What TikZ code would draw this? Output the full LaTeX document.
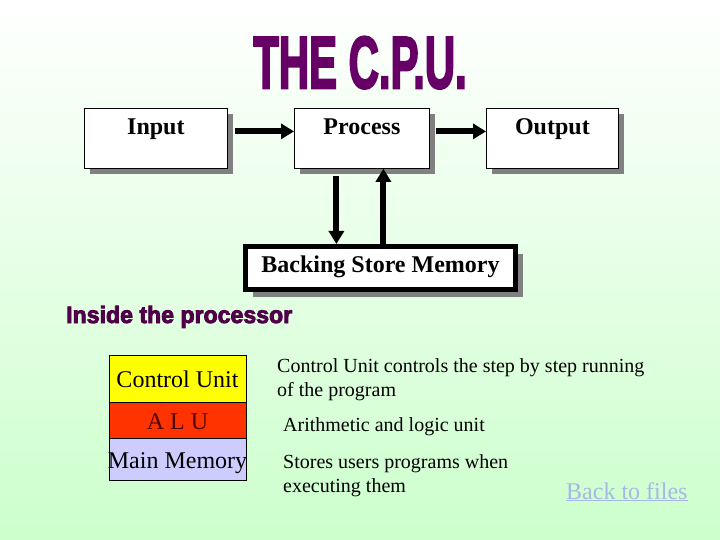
\documentclass[tikz,border=0pt]{standalone}
\usepackage{fontspec}
\setmainfont{Liberation Serif}
\newfontfamily\heavyfont[UprightFont=* Bold, FakeBold=3.5]{Liberation Sans}
\usetikzlibrary{arrows.meta,shadows}
\definecolor{bggreen}{RGB}{204,255,204}
\definecolor{titlepurple}{RGB}{102,0,102}
\definecolor{insidepurple}{RGB}{80,0,72}
\definecolor{shadowgray}{RGB}{128,128,128}
\definecolor{cuyellow}{RGB}{255,255,0}
\definecolor{alured}{RGB}{255,51,0}
\definecolor{memlav}{RGB}{204,204,255}
\definecolor{linkblue}{RGB}{168,184,230}
\definecolor{aludark}{RGB}{80,0,0}
\begin{document}
\begin{tikzpicture}[x=1pt,y=-1pt,
  flowbox/.style={draw=black, line width=0.8pt, fill=white, inner sep=0pt,
    font=\bfseries\fontsize{24}{28}\selectfont, text height=26pt, text depth=34pt,
    anchor=north west,
    drop shadow={shadow xshift=6pt, shadow yshift=-6pt, fill=shadowgray, opacity=1}},
  arr/.style={line width=6pt, -{Triangle[length=13pt,width=15pt]}},
  stackbox/.style={draw=black, line width=0.6pt, inner sep=0pt, minimum width=137pt,
    anchor=north west, font=\fontsize{24}{28}\selectfont},
  desc/.style={anchor=base west, inner sep=0pt, align=left,
    font=\fontsize{20}{24}\selectfont}]
\useasboundingbox (0,0) rectangle (720,540);
\shade[top color=white, bottom color=bggreen] (0,0) rectangle (720,540);

% title
\node[anchor=base, inner sep=0pt, text=titlepurple] (title) at (360,88)
  {\heavyfont\fontsize{73.5}{80}\selectfont\scalebox{0.57}[1]{THE C.P.U.}};

% flow boxes
\node[flowbox, minimum width=143pt] (input) at (84,108) {Input};
\node[flowbox, minimum width=135pt] (process) at (294,108) {Process};
\node[flowbox, minimum width=132pt] (output) at (486,108) {Output};
\node[draw=black, line width=5pt, fill=white, inner sep=0pt, anchor=north west,
  minimum width=270pt, text height=25.5pt, text depth=17.5pt,
  font=\bfseries\fontsize{24}{28}\selectfont,
  drop shadow={shadow xshift=7pt, shadow yshift=-7pt, fill=shadowgray, opacity=1}]
  (backing) at (243,244) {Backing Store Memory};

% connectors
\draw[arr] ([xshift=7pt,yshift=7pt]input.east) -- ([yshift=7pt]process.west);
\draw[arr] ([xshift=6pt,yshift=7pt]process.east) -- ([yshift=7pt]output.west);
\path ([xshift=-25.5pt,yshift=-7pt]process.south) coordinate (downtop);
\path ([xshift=21.5pt]process.south) coordinate (uptop);
\draw[arr] (downtop) -- (downtop |- backing.north);
\draw[arr] (uptop |- backing.north) -- (uptop);

% inside the processor
\node[anchor=base west, inner sep=0pt, text=insidepurple] (inside) at (66,323)
  {\heavyfont\fontsize{23.7}{28}\selectfont\scalebox{0.975}[1]{Inside the processor}};

\node[stackbox, fill=cuyellow, text height=32pt, text depth=15pt] (cu) at (108.7,355) {Control Unit};
\node[stackbox, fill=alured, text height=27pt, text depth=9pt, text=aludark] (alu) at (108.7,402) {A L U};
\node[stackbox, fill=memlav, text height=30pt, text depth=12pt] (mem) at (108.7,438) {\makebox[137pt]{Main Memory}};

% base anchor of a two-line node is the last line's baseline
\node[desc] (cudesc) at (277,396) {Control Unit controls the step by step running\\of the program};
\node[desc] (aludesc) at (283,431) {Arithmetic and logic unit};
\node[desc] (memdesc) at (283,492) {Stores users programs when\\executing them};

\node[anchor=base west, inner sep=0pt, text=linkblue, font=\fontsize{24}{28}\selectfont]
  (back) at (566,499) {\underline{Back to files}};
\end{tikzpicture}
\end{document}
